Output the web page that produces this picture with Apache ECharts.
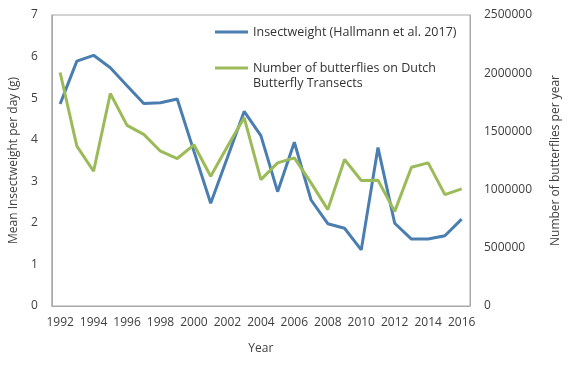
<!DOCTYPE html>
<html>
<head>
<meta charset="utf-8">
<script src="https://cdn.jsdelivr.net/npm/echarts@6/dist/echarts.min.js"></script>
<style>
html,body{margin:0;padding:0;background:#fff;}
#chart{width:570px;height:366px;}
</style>
</head>
<body>
<div id="chart"></div>
<script>
var years = ['1992','1993','1994','1995','1996','1997','1998','1999','2000','2001','2002','2003','2004','2005','2006','2007','2008','2009','2010','2011','2012','2013','2014','2015','2016'];
var insectWeight = [4.86,5.89,6.03,5.73,5.30,4.87,4.89,4.98,3.72,2.47,3.57,4.68,4.10,2.75,3.94,2.55,1.98,1.87,1.35,3.81,1.99,1.61,1.61,1.69,2.09];
var butterflies = [2006000,1373000,1158000,1825000,1552000,1474000,1330000,1267000,1385000,1115000,1370000,1618000,1086000,1230000,1273000,1058000,828000,1259000,1078000,1080000,813000,1192000,1230000,957000,1006000];
var insectName = 'Insectweight (Hallmann et al. 2017)';
var butterflyName = 'Number of butterflies on Dutch';
var butterflyName2 = 'Butterfly Transects';

var FONT = '"Open Sans", sans-serif';
var TXT = '#404040';
var chart = echarts.init(document.getElementById('chart'), null, {renderer:'canvas'});
chart.setOption({
  animation: false,
  backgroundColor: '#fff',
  textStyle: {fontFamily: FONT},
  grid: {left: 48, top: 15, right: 98, bottom: 60, show: true, borderColor: '#a8a8a8', borderWidth: 1, containLabel: false},
  legend: {
    orient: 'vertical', left: 210, top: 19,
    icon: 'rect', itemWidth: 33, itemHeight: 3, itemGap: 20,
    textStyle: {fontFamily: FONT, fontSize: 12.5, color: '#333', lineHeight: 16},
    data: [insectName, butterflyName]
  },
  graphic: [{
    type: 'text', left: 253, top: 77,
    style: {text: butterflyName2, font: '12.5px ' + FONT, fill: '#333'}
  }],
  xAxis: {
    type: 'category', data: years, boundaryGap: true,
    name: 'Year', nameLocation: 'middle', nameGap: 37,
    nameTextStyle: {fontSize: 12, color: TXT, fontFamily: FONT},
    axisLine: {show: true, lineStyle: {color: '#a8a8a8'}},
    axisTick: {show: false},
    axisLabel: {interval: 1, margin: 11, fontSize: 12, color: TXT, fontFamily: FONT},
    splitLine: {show: false}
  },
  yAxis: [{
    type: 'value', min: 0, max: 7, interval: 1,
    name: 'Mean Insectweight per day (g)', nameLocation: 'middle', nameGap: 26,
    nameTextStyle: {fontSize: 12, color: TXT, fontFamily: FONT},
    axisLine: {show: true, lineStyle: {color: '#a8a8a8'}}, axisTick: {show: false},
    axisLabel: {margin: 14, fontSize: 12, color: TXT, fontFamily: FONT},
    splitLine: {show: false}
  }, {
    type: 'value', min: 0, max: 2500000, interval: 500000, position: 'right',
    name: 'Number of butterflies per year', nameLocation: 'middle', nameGap: 80,
    nameTextStyle: {fontSize: 12, color: TXT, fontFamily: FONT},
    axisLine: {show: true, lineStyle: {color: '#a8a8a8'}}, axisTick: {show: false},
    axisLabel: {margin: 14, fontSize: 12, color: TXT, fontFamily: FONT,
      formatter: function (v) { return String(v); }},
    splitLine: {show: false}
  }],
  series: [{
    name: insectName, type: 'line', yAxisIndex: 0, data: insectWeight,
    symbol: 'none', lineStyle: {width: 3, color: '#4A7EB0'}, itemStyle: {color: '#4A7EB0'}
  }, {
    name: butterflyName, type: 'line', yAxisIndex: 1, data: butterflies,
    symbol: 'none', lineStyle: {width: 3, color: '#9BBB59'}, itemStyle: {color: '#9BBB59'}
  }]
});
</script>
</body>
</html>
